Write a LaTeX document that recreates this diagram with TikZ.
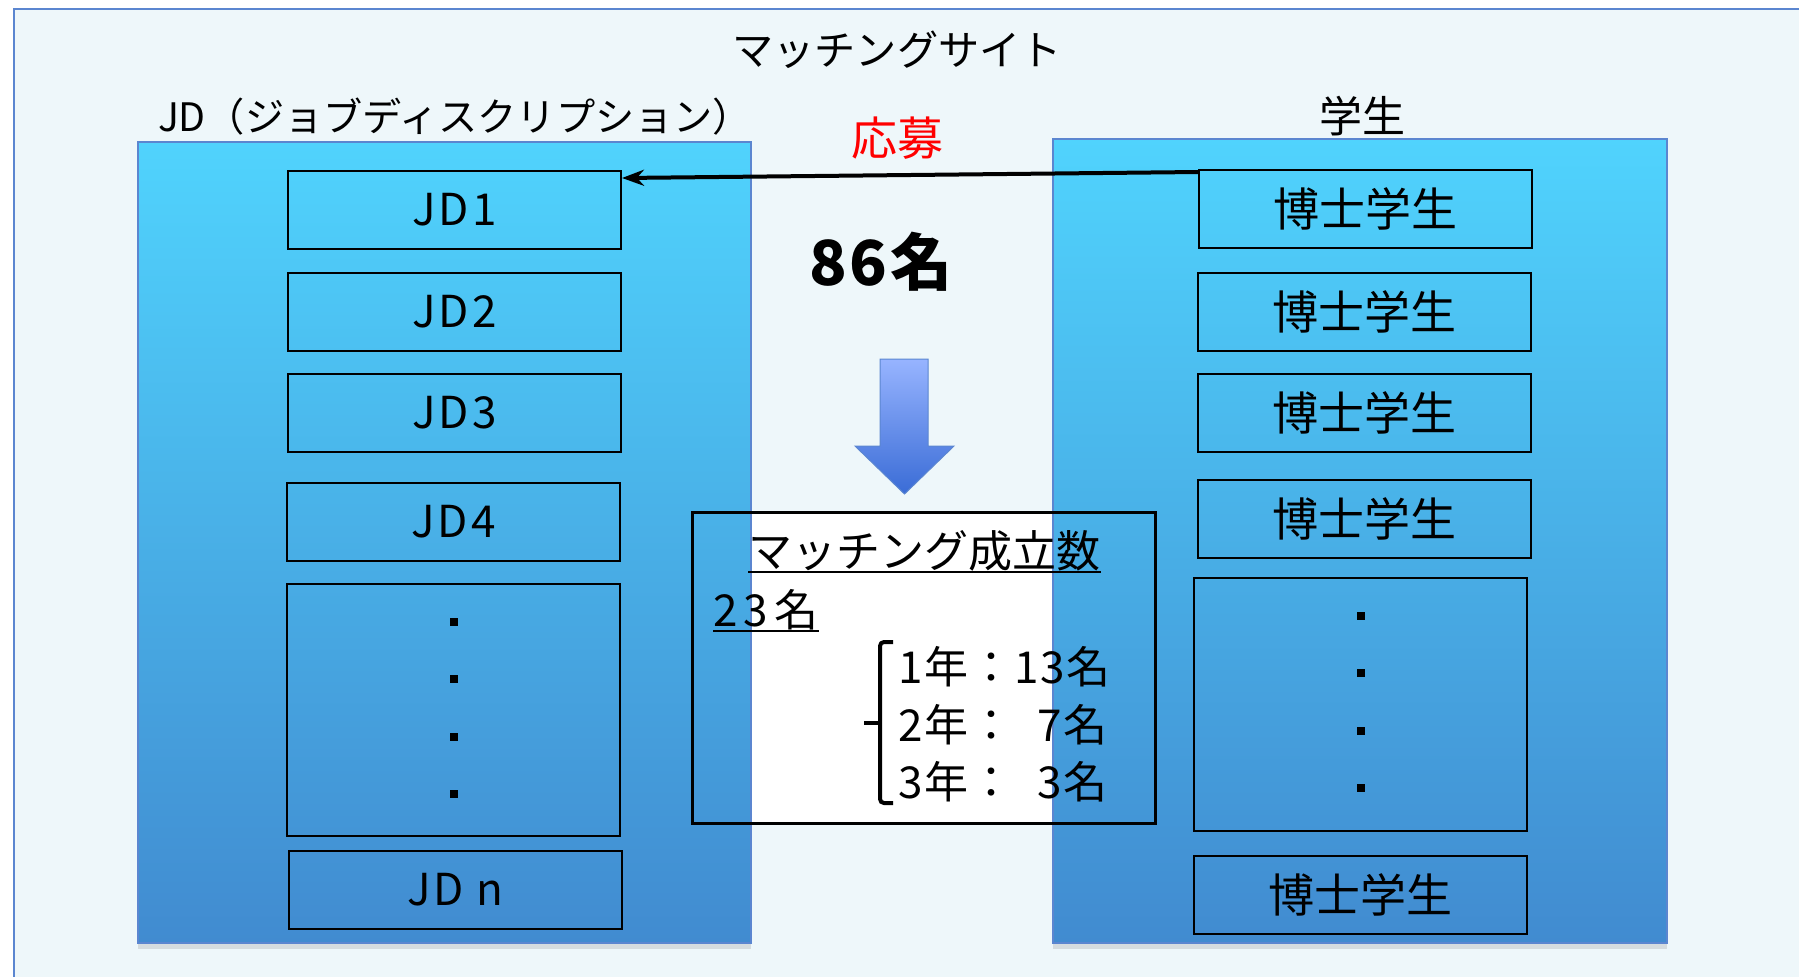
\documentclass[tikz,border=0pt]{standalone}
\usepackage{fontspec}
\setmainfont{Noto Sans CJK JP}
\newfontfamily\jdfont[LetterSpace=7]{Noto Sans CJK JP}
\newfontfamily\numfont[LetterSpace=14]{Noto Sans CJK JP}
\newfontfamily\yrfont[LetterSpace=3]{Noto Sans CJK JP}
\newfontfamily\bigfont[LetterSpace=4]{Noto Sans CJK JP}
\usetikzlibrary{calc,shadows,arrows.meta}
\definecolor{bgc}{HTML}{EEF7FA}
\definecolor{framec}{HTML}{5B86D0}
\definecolor{ptop}{HTML}{50D3FD}
\definecolor{pbot}{HTML}{418BD0}
\definecolor{atop}{HTML}{97B4FF}
\definecolor{abot}{HTML}{3A6CD6}
\definecolor{redc}{HTML}{FF0000}
\newcommand\fsz[1]{\fontsize{#1pt}{#1pt}\selectfont}
\begin{document}
\begin{tikzpicture}[x=0.5pt,y=-0.5pt,
  panel/.style={draw=framec,line width=0.6pt,top color=ptop,bottom color=pbot,
    drop shadow={shadow xshift=0pt,shadow yshift=-3pt,opacity=0.22}},
  jdbox/.style={draw=black,line width=1pt,minimum width=166.5pt,minimum height=39pt,inner sep=0pt,font=\jdfont\fsz{22}},
  stbox/.style={draw=black,line width=1pt,minimum width=166.5pt,minimum height=39pt,inner sep=0pt,font=\fsz{23}},
  dotbox/.style={draw=black,line width=1pt,minimum width=166.5pt,inner sep=0pt},
  dotsq/.style={fill=black,minimum size=4pt,inner sep=0pt},
  lbl/.style={inner sep=0pt},
  mtext/.style={inner sep=0pt,anchor=west,font=\fsz{22}}]
\useasboundingbox (0,0) rectangle (1799,976);
% background frame
\path[fill=bgc,draw=framec,line width=0.8pt] (14,9) rectangle (1840,1010);
% white interior of the result box
\fill[white] (692,512) rectangle (1155,823);
% panels
\path[panel] (138,142) rectangle (751,943);
\path[panel] (1053,139) rectangle (1667,943);
% headings
\node[lbl,font=\fsz{20.6}] (title) at (897,50) {マッチングサイト};
\node[lbl,font=\fsz{19.6}] (jdlabel) at (455,117) {JD（ジョブディスクリプション）};
\node[lbl,font=\fsz{21.5}] (stlabel) at (1362,116) {学生};
\node[lbl,font=\fsz{23},text=redc] (oubo) at (897,138) {応募};
\node[lbl,font=\bigfont\bfseries\fsz{31}] (count) at (881,262) {86名};
% JD boxes
\node[jdbox] (jd1) at (454.5,210) {JD1};
\node[jdbox] (jd2) at (454.5,312) {JD2};
\node[jdbox] (jd3) at (454.5,413) {JD3};
\node[jdbox] (jd4) at (453.5,522) {JD4};
\node[dotbox,minimum height=126pt] (jddots) at (453.5,710) {};
\node[jdbox] (jdn) at (455.5,890) {JD n};
\node[dotsq] (dl1) at (453.5,622) {};
\node[dotsq] (dl2) at (453.5,679) {};
\node[dotsq] (dl3) at (453.5,737) {};
\node[dotsq] (dl4) at (453.5,794) {};
% student boxes
\node[stbox] (s1) at (1365.5,209) {博士学生};
\node[stbox] (s2) at (1364.5,312) {博士学生};
\node[stbox] (s3) at (1364.5,413) {博士学生};
\node[stbox] (s4) at (1364.5,519) {博士学生};
\node[dotbox,minimum height=126.5pt] (sdots) at (1360.5,704.5) {};
\node[stbox] (s5) at (1360.5,895) {博士学生};
\node[dotsq] (dr1) at (1360.5,616) {};
\node[dotsq] (dr2) at (1360.5,673) {};
\node[dotsq] (dr3) at (1360.5,731) {};
\node[dotsq] (dr4) at (1360.5,788) {};
% application arrow
\draw[line width=2pt,-{Stealth[length=11pt,width=8pt]}]
  ($(s1.north west)+(0,3)$) -- ($(jd1.north east)+(0,8)$);
% down arrow
\shade[top color=atop,bottom color=abot,draw=framec,line width=0.5pt]
  (880,359) -- (928,359) -- (928,446) -- (954,446) -- (904.5,494) -- (855,446) -- (880,446) -- cycle;
% result box
\node[draw=black,line width=1.5pt,minimum width=231.5pt,minimum height=155.5pt,inner sep=0pt] (mbox) at (923.5,667.5) {};
\node[mtext] (mt) at (748,551) {マッチング成立数};
\draw[line width=1.2pt] (mt.south west) -- (mt.south east);
\node[mtext,font=\numfont\fsz{22}] (mn) at (713,610) {23名};
\draw[line width=1.2pt] (mn.south west) -- (mn.south east);
\node[mtext,font=\yrfont\fsz{22}] (y1) at (898,667) {1年：13名};
\node[mtext,font=\yrfont\fsz{22}] (y2) at (898,725) {2年：\phantom{1}7名};
\node[mtext,font=\yrfont\fsz{22}] (y3) at (898,782) {3年：\phantom{1}3名};
\draw[line width=2pt,rounded corners=2pt] (893,642) -- (880,642) -- (880,803) -- (893,803);
\draw[line width=2pt] (880,723) -- (864,723);
\end{tikzpicture}
\end{document}
